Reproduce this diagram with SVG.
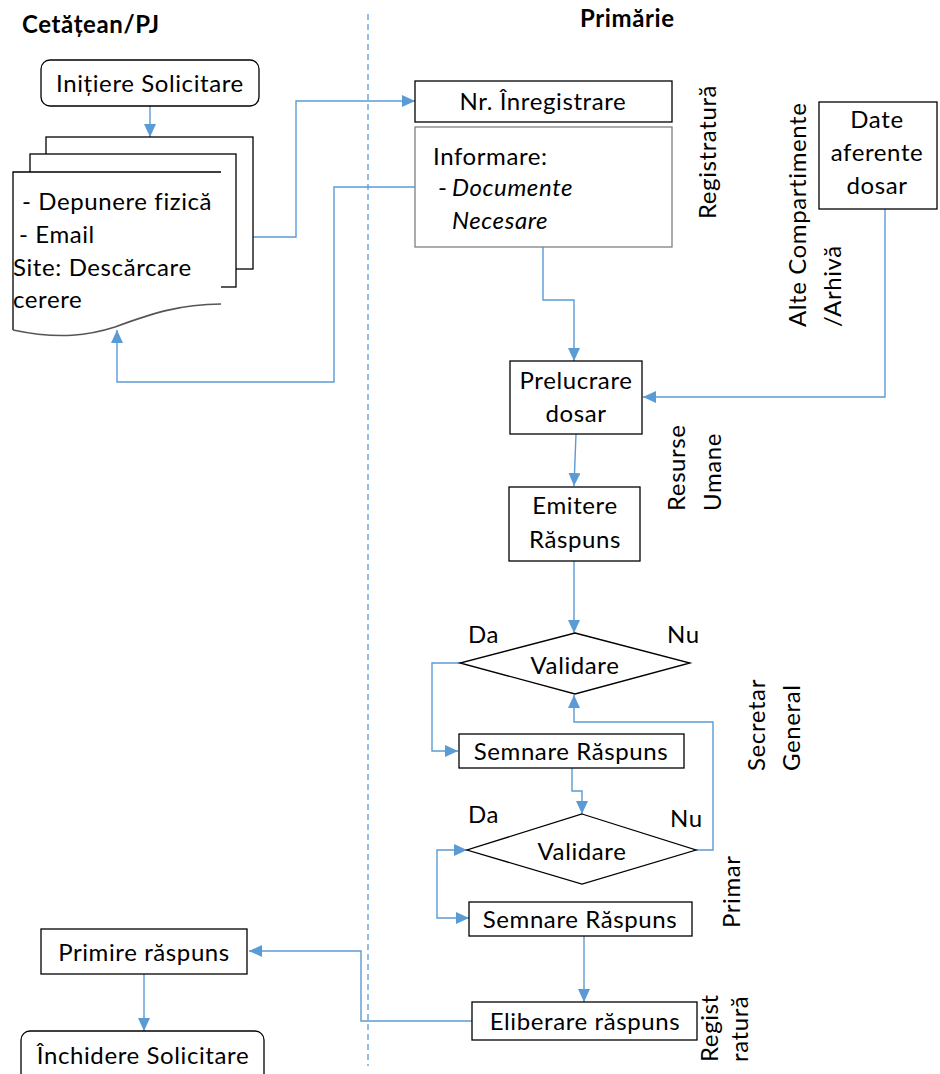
<svg xmlns="http://www.w3.org/2000/svg" width="940" height="1074" viewBox="0 0 940 1074">
  <style>
    text { font-family: Lato, "Open Sans", "Liberation Sans", sans-serif; font-size: 24px; letter-spacing: 0.6px; fill: #000; }
    .c { text-anchor: middle; }
    .title { font-weight: bold; font-size: 24px; letter-spacing: 0.6px; }
    .it { font-style: italic; }
    .box { fill: #fff; stroke: #000; stroke-width: 1.3; }
    .grey { fill: #fff; stroke: #808080; stroke-width: 1.3; }
    .edge { fill: none; stroke: #5b9bd5; stroke-width: 1.4; }
    .lane { fill: none; stroke: #6fa8dc; stroke-width: 1.5; stroke-dasharray: 6 4; }
    .vl { text-anchor: start; }
  </style>
  <defs>
    <marker id="arr" markerUnits="userSpaceOnUse" markerWidth="14" markerHeight="14" refX="13" refY="6" orient="auto">
      <path d="M0,0 L13,6 L0,12 z" fill="#5b9bd5"/>
    </marker>
    <marker id="arrS" markerUnits="userSpaceOnUse" markerWidth="14" markerHeight="14" refX="13" refY="6" orient="auto-start-reverse">
      <path d="M0,0 L13,6 L0,12 z" fill="#5b9bd5"/>
    </marker>
  </defs>

  <!-- lane headers and divider -->
  <text class="title" x="22" y="33">Cetățean/PJ</text>
  <text class="title" x="580" y="27">Primărie</text>
  <line class="lane" x1="368" y1="14" x2="368" y2="1066"/>

  <!-- side labels (rotated) -->
  <g id="lbl-registratura"><text class="c" transform="translate(716,152) rotate(-90)">Registratură</text></g>
  <g id="lbl-alte">
    <text class="vl" transform="translate(806,327) rotate(-90)">Alte Compartimente</text>
    <text class="vl" transform="translate(841,327) rotate(-90)">/Arhivă</text>
  </g>
  <g id="lbl-resurse">
    <text class="vl" transform="translate(685,511) rotate(-90)">Resurse</text>
    <text class="vl" transform="translate(721,511) rotate(-90)">Umane</text>
  </g>
  <g id="lbl-secretar">
    <text class="vl" transform="translate(765,771) rotate(-90)">Secretar</text>
    <text class="vl" transform="translate(800,771) rotate(-90)">General</text>
  </g>
  <g id="lbl-primar"><text class="vl" transform="translate(740,928) rotate(-90)">Primar</text></g>
  <g id="lbl-regist">
    <text class="vl" transform="translate(718,1062) rotate(-90)">Regist</text>
    <text class="vl" transform="translate(748,1062) rotate(-90)">ratură</text>
  </g>

  <!-- connectors -->
  <g id="connectors">
    <path class="edge" d="M150,106 V137" marker-end="url(#arr)"/>
    <path class="edge" d="M253,237 H296 V101 H415" marker-end="url(#arr)"/>
    <path class="edge" d="M415,187 H334 V382 H117 V330" marker-end="url(#arr)"/>
    <path class="edge" d="M543,246 V300 H574 V361" marker-end="url(#arr)"/>
    <path class="edge" d="M885,209 V397 H643" marker-end="url(#arr)"/>
    <path class="edge" d="M576,434 L574,486" marker-end="url(#arr)"/>
    <path class="edge" d="M574,561 V633" marker-end="url(#arr)"/>
    <path class="edge" d="M460,663 H432 V751 H458" marker-end="url(#arr)"/>
    <path class="edge" d="M696,850 H713 V722 H574 V695" marker-end="url(#arr)"/>
    <path class="edge" d="M572,768 V791 H582 V814" marker-end="url(#arr)"/>
    <path class="edge" d="M467,850 H437 V918 H469" marker-start="url(#arrS)" marker-end="url(#arr)"/>
    <path class="edge" d="M584,935 V1002" marker-end="url(#arr)"/>
    <path class="edge" d="M472,1021 H361 V951 H249" marker-end="url(#arr)"/>
    <path class="edge" d="M144,974 V1031" marker-end="url(#arr)"/>
  </g>

  <!-- citizen lane -->
  <g id="initiere">
    <rect class="box" x="41" y="60" width="218" height="46" rx="9"/>
    <text class="c" x="150" y="92">Inițiere Solicitare</text>
  </g>

  <g id="documente">
    <rect class="box" x="46" y="137" width="207" height="132"/>
    <rect class="box" x="30" y="154" width="206" height="133"/>
    <path d="M13,330 V172 H221 V304 C180,304 150,314 115,327 C90,335 60,340 13,330 Z" fill="#fff" stroke="none"/>
    <path d="M13,330 V172 H221" fill="none" stroke="#000" stroke-width="1.3"/>
    <path d="M13,330 C60,340 90,335 115,327 C150,314 180,304 221,304" fill="none" stroke="#555" stroke-width="1.6"/>
    <text x="22" y="210">- Depunere fizică</text>
    <text x="19" y="243">- Email</text>
    <text x="13" y="276">Site: Descărcare</text>
    <text x="13" y="308">cerere</text>
  </g>

  <g id="primire">
    <rect class="box" x="41" y="929" width="206" height="45"/>
    <text class="c" x="144" y="961">Primire răspuns</text>
  </g>

  <g id="inchidere">
    <rect class="box" x="21" y="1031" width="243" height="60" rx="9"/>
    <text class="c" x="143" y="1064">Închidere Solicitare</text>
  </g>

  <!-- town hall lane -->
  <g id="nr-inregistrare">
    <rect class="box" x="415" y="81" width="257" height="41"/>
    <text class="c" x="543" y="110">Nr. Înregistrare</text>
  </g>

  <g id="informare">
    <rect class="grey" x="415" y="127" width="257" height="120"/>
    <text x="433" y="165">Informare:</text>
    <text x="438" y="196">-</text>
    <text class="it" x="452" y="196">Documente</text>
    <text class="it" x="452" y="229">Necesare</text>
  </g>

  <g id="date-aferente">
    <rect class="box" x="819" y="102" width="118" height="107"/>
    <text class="c" x="877" y="128">Date</text>
    <text class="c" x="877" y="161">aferente</text>
    <text class="c" x="877" y="194">dosar</text>
  </g>

  <g id="prelucrare">
    <rect class="box" x="510" y="361" width="132" height="73"/>
    <text class="c" x="576" y="389">Prelucrare</text>
    <text class="c" x="576" y="422">dosar</text>
  </g>

  <g id="emitere">
    <rect class="box" x="509" y="487" width="131" height="74"/>
    <text class="c" x="575" y="514">Emitere</text>
    <text class="c" x="575" y="548">Răspuns</text>
  </g>

  <g id="validare-1">
    <polygon class="box" points="575,633 690,663 575,694 460,663"/>
    <text class="c" x="575" y="674">Validare</text>
    <text x="468" y="643">Da</text>
    <text x="667" y="643">Nu</text>
  </g>

  <g id="semnare-1">
    <rect class="box" x="459" y="734" width="225" height="34"/>
    <text class="c" x="571" y="760">Semnare Răspuns</text>
  </g>

  <g id="validare-2">
    <polygon class="box" points="582,814 696,850 582,884 467,850"/>
    <text class="c" x="582" y="860">Validare</text>
    <text x="468" y="823">Da</text>
    <text x="670" y="827">Nu</text>
  </g>

  <g id="semnare-2">
    <rect class="box" x="469" y="902" width="223" height="34"/>
    <text class="c" x="580" y="928">Semnare Răspuns</text>
  </g>

  <g id="eliberare">
    <rect class="box" x="472" y="1002" width="225" height="38"/>
    <text class="c" x="585" y="1030">Eliberare răspuns</text>
  </g>
</svg>
